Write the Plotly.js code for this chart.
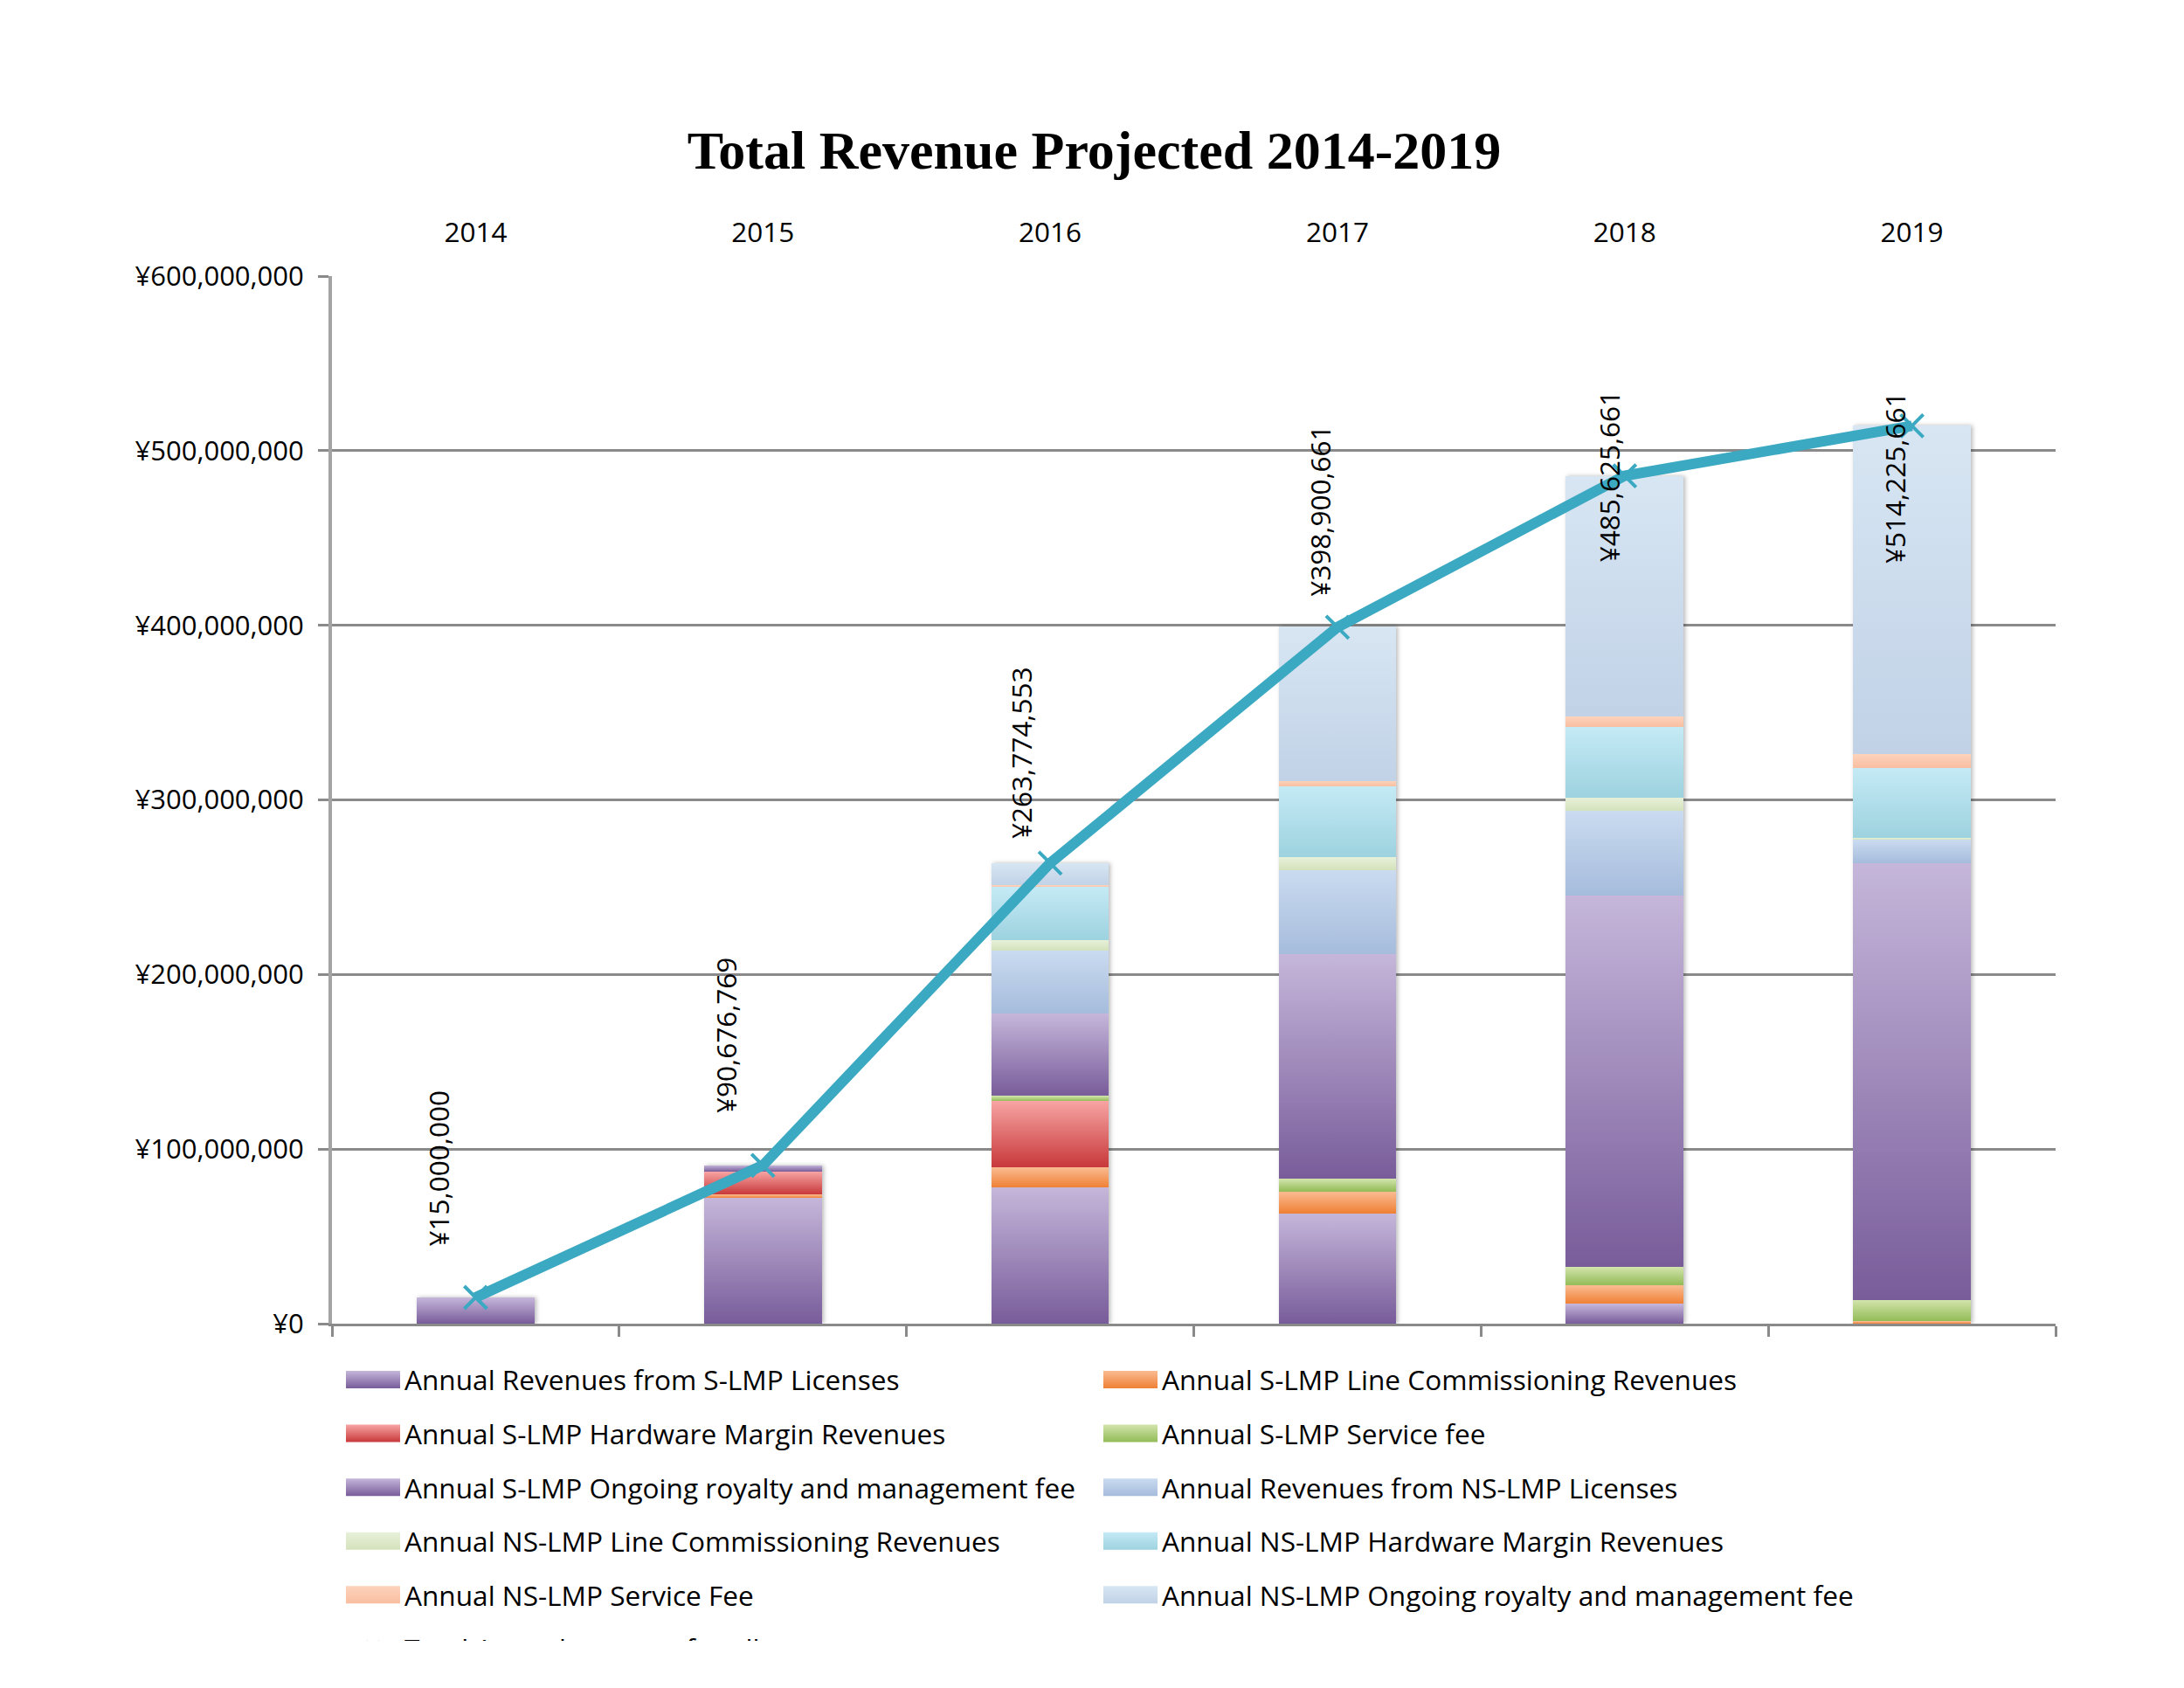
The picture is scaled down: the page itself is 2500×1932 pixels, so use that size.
<!DOCTYPE html>
<html>
<head>
<meta charset="utf-8">
<script src="https://cdn.plot.ly/plotly-3.0.1.min.js"></script>
<style>
  html, body { margin: 0; padding: 0; background: #ffffff; }
  #clip { width: 2500px; height: 1878px; overflow: hidden; }
  #chart { width: 2500px; height: 1932px; }
</style>
</head>
<body>
<div id="clip"><div id="chart"></div></div>
<script>
// ---- Data (yen) ----
const years = ['2014', '2015', '2016', '2017', '2018', '2019'];

const sLicenses      = [15000000, 72000000, 77900000, 63100000, 11300000, 0];
const sLineComm      = [0, 2000000, 11700000, 12500000, 10600000, 1300000];
const sHardware      = [0, 13100000, 37900000, 0, 0, 0];
const sServiceFee    = [0, 0, 3000000, 7400000, 10600000, 12300000];
const sOngoing       = [0, 3600000, 47100000, 128500000, 212800000, 250300000];
const nsLicenses     = [0, 0, 36000000, 48300000, 48200000, 13300000];
const nsLineComm     = [0, 0, 6200000, 7400000, 8000000, 1000000];
const nsHardware     = [0, 0, 30200000, 40400000, 40200000, 39900000];
const nsServiceFee   = [0, 0, 1000000, 3400000, 6000000, 8300000];
const nsOngoing      = [0, 0, 12800000, 88100000, 137900000, 187800000];
const totalRevenue   = [15000000, 90676769, 263774553, 398900661, 485625661, 514225661];
const totalLabels    = ['¥15,000,000', '¥90,676,769', '¥263,774,553', '¥398,900,661', '¥485,625,661', '¥514,225,661'];

const seriesNames = [
  'Annual Revenues from S-LMP Licenses',
  'Annual S-LMP Line Commissioning Revenues',
  'Annual S-LMP Hardware Margin Revenues',
  'Annual S-LMP Service fee',
  'Annual S-LMP Ongoing royalty and management fee',
  'Annual Revenues from NS-LMP Licenses',
  'Annual NS-LMP Line Commissioning Revenues',
  'Annual NS-LMP Hardware Margin Revenues',
  'Annual NS-LMP Service Fee',
  'Annual NS-LMP Ongoing royalty and management fee'
];
const totalName = 'Total Annual revenue for all years';
const seriesValues = [sLicenses, sLineComm, sHardware, sServiceFee, sOngoing,
                      nsLicenses, nsLineComm, nsHardware, nsServiceFee, nsOngoing];

// ---- Styles ----
const gradTop    = ['#c5b6da', '#fabb92', '#f7a4a3', '#d2e4ac', '#c5b6da', '#cadbf0', '#e7f0da', '#c4eaf5', '#fdd3bc', '#d8e6f3'];
const gradBottom = ['#785c9a', '#ef8034', '#c8383a', '#92bb56', '#785c9a', '#a6bcdc', '#d4e2bb', '#9dd2df', '#f9bea0', '#c1d2e7'];
const midColor   = ['#9c88ba', '#f59c63', '#e06d6d', '#b0cf80', '#9c88ba', '#b8cbe6', '#dde9ca', '#b0dfea', '#fbc8ae', '#cddced'];
const lineColor  = '#3ba9c2';
const gridColor  = '#8a8a8a';
const labelShift = [[-43, 148], [-42, 149], [-33, 126], [-20, 133], [-18, -1], [-20, -60]];

const traces = seriesValues.map((vals, i) => ({
  type: 'bar',
  name: seriesNames[i],
  x: years,
  y: vals,
  xaxis: 'x', yaxis: 'y',
  marker: { color: midColor[i], line: { width: 0 } },
  legend: (i % 2 === 0) ? 'legend' : 'legend2',
  legendgroup: 'g' + i,
  hoverinfo: 'skip'
}));

traces.push({
  type: 'scatter',
  mode: 'lines+markers',
  name: totalName,
  x: years,
  y: totalRevenue,
  xaxis: 'x2', yaxis: 'y',
  line: { color: lineColor, width: 12, shape: 'linear' },
  marker: { symbol: 'x-thin', size: 26, color: lineColor, line: { color: lineColor, width: 4 } },
  legend: 'legend',
  legendgroup: 'g10',
  hoverinfo: 'skip'
});

const annotations = years.map((yr, i) => ({
  x: i, y: totalRevenue[i], xref: 'x', yref: 'y',
  text: totalLabels[i],
  textangle: -90,
  showarrow: false,
  xanchor: 'center', yanchor: 'middle',
  xshift: labelShift[i][0], yshift: labelShift[i][1],
  font: { family: 'Open Sans', size: 31.5, color: '#000000' }
}));

const legendCommon = {
  orientation: 'v',
  xref: 'container', yref: 'container',
  xanchor: 'left', yanchor: 'top',
  y: 1 - 1552 / 1932,
  font: { family: 'Open Sans', size: 31.6, color: '#000000' },
  itemwidth: 62,
  tracegroupgap: 17.5,
  traceorder: 'grouped',
  bgcolor: 'rgba(0,0,0,0)',
  valign: 'middle'
};

const layout = {
  width: 2500, height: 1932,
  paper_bgcolor: '#ffffff', plot_bgcolor: '#ffffff',
  margin: { l: 380, r: 147, t: 316, b: 417, pad: 0, autoexpand: false },
  barmode: 'stack',
  bargap: 0.59,
  showlegend: true,
  font: { family: 'Open Sans', size: 31, color: '#000000' },
  title: {
    text: '<b>Total Revenue Projected 2014-2019</b>',
    font: { family: 'Liberation Serif', size: 62, color: '#000000' },
    xref: 'container', yref: 'container',
    x: 0.501, xanchor: 'center',
    y: 1 - 171 / 1932, yanchor: 'middle',
    automargin: false
  },
  xaxis: {
    type: 'category', range: [-0.5, 5.5],
    side: 'bottom', anchor: 'y',
    showticklabels: false,
    showgrid: false, zeroline: false,
    showline: true, linecolor: gridColor, linewidth: 3,
    ticks: 'outside', tickson: 'boundaries', ticklen: 12, tickwidth: 3, tickcolor: gridColor,
    automargin: false
  },
  xaxis2: {
    type: 'category', range: [-0.5, 5.5],
    overlaying: 'x', side: 'top', anchor: 'y',
    showticklabels: true, ticks: '', showline: false, showgrid: false, zeroline: false,
    ticklabelstandoff: 32, tickangle: 0,
    tickfont: { family: 'Open Sans', size: 31.5, color: '#000000' },
    automargin: false
  },
  yaxis: {
    range: [0, 600000000], dtick: 100000000, tick0: 0,
    tickprefix: '¥', tickformat: ',d',
    showgrid: true, gridcolor: gridColor, gridwidth: 3,
    zeroline: false,
    showline: true, linecolor: '#a3a3a3', linewidth: 4,
    ticks: 'outside', ticklen: 12, tickwidth: 3, tickcolor: gridColor,
    ticklabelstandoff: 10,
    tickfont: { family: 'Open Sans', size: 31, color: '#000000' },
    automargin: false
  },
  legend: Object.assign({}, legendCommon, { x: 391 / 2500 }),
  legend2: Object.assign({}, legendCommon, { x: 1258 / 2500 }),
  annotations: annotations
};

Plotly.newPlot('chart', traces, layout, { staticPlot: true, displayModeBar: false }).then(gd => {
  const NS = 'http://www.w3.org/2000/svg';
  const svg = gd.querySelector('svg.main-svg');
  let defs = svg.querySelector('defs');
  if (!defs) { defs = document.createElementNS(NS, 'defs'); svg.insertBefore(defs, svg.firstChild); }
  gradTop.forEach((top, i) => {
    const lg = document.createElementNS(NS, 'linearGradient');
    lg.setAttribute('id', 'barGrad' + i);
    lg.setAttribute('x1', '0'); lg.setAttribute('y1', '0');
    lg.setAttribute('x2', '0'); lg.setAttribute('y2', '1');
    const s1 = document.createElementNS(NS, 'stop');
    s1.setAttribute('offset', '0'); s1.setAttribute('stop-color', top);
    const s2 = document.createElementNS(NS, 'stop');
    s2.setAttribute('offset', '1'); s2.setAttribute('stop-color', gradBottom[i]);
    lg.appendChild(s1); lg.appendChild(s2);
    defs.appendChild(lg);
  });
  const filt = document.createElementNS(NS, 'filter');
  filt.setAttribute('id', 'barShadow');
  filt.setAttribute('x', '-20%'); filt.setAttribute('y', '-5%');
  filt.setAttribute('width', '140%'); filt.setAttribute('height', '110%');
  const ds = document.createElementNS(NS, 'feDropShadow');
  ds.setAttribute('dx', '2'); ds.setAttribute('dy', '0');
  ds.setAttribute('stdDeviation', '2.5');
  ds.setAttribute('flood-color', '#000000'); ds.setAttribute('flood-opacity', '0.28');
  filt.appendChild(ds);
  defs.appendChild(filt);

  gd.querySelectorAll('.barlayer .trace').forEach(g => {
    const d = g.__data__;
    if (!d || !d[0] || !d[0].trace) return;
    const idx = d[0].trace.index;
    g.querySelectorAll('path').forEach(p => { p.style.fill = 'url(#barGrad' + idx + ')'; });
  });
  const bl = gd.querySelector('.barlayer');
  if (bl) bl.setAttribute('filter', 'url(#barShadow)');

  gd.querySelectorAll('g[class^="legend"] .traces').forEach(g => {
    const d = g.__data__;
    if (!d || !d[0] || !d[0].trace) return;
    const t = d[0].trace;
    if (t.type === 'bar') {
      g.querySelectorAll('.legendpoints path').forEach(p => {
        p.setAttribute('d', 'M31,10H-31V-10H31Z');
        p.style.fill = 'url(#barGrad' + t.index + ')';
        p.style.stroke = 'none';
      });
    }
  });
});
</script>
</body>
</html>
